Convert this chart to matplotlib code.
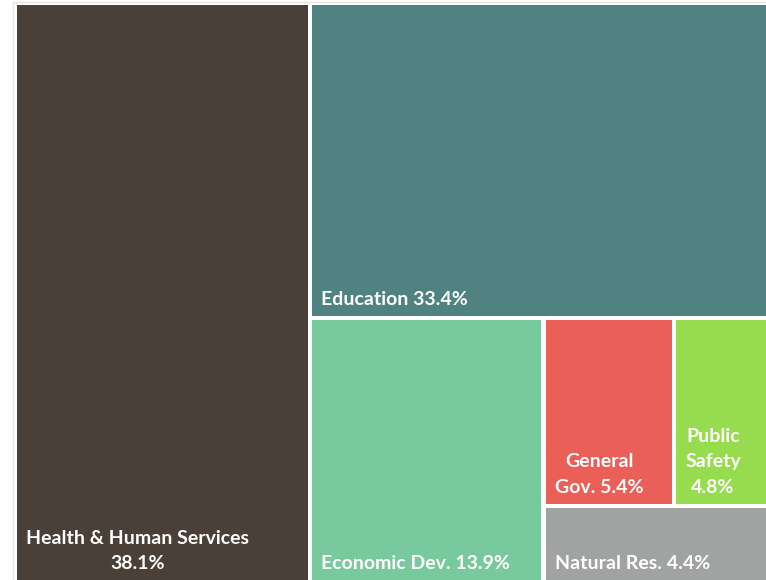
import matplotlib.pyplot as plt
from matplotlib.patches import Rectangle

labels = ['Health & Human Services\n38.1%', 'Education 33.4%', 'Economic Dev. 13.9%',
          'General\nGov. 5.4%', 'Public\nSafety\n4.8%', 'Natural Res. 4.4%']
values = [38.1, 33.4, 13.9, 5.4, 4.8, 4.4]
colors = ['#4a4037', '#508282', '#79c99e', '#ea5f57', '#97db4f', '#a0a3a1']


def split(x, y, w, h, vals, vertical):
    # slice a box into pieces proportional to vals
    tot = sum(vals)
    out = []
    pos = 0.0
    for v in vals:
        f = v / tot
        if vertical:
            out.append((x + pos * w, y, f * w, h))
        else:
            out.append((x, y + pos * h, w, f * h))
        pos += f
    return out


# region in pixels (y grows downward), extends past the crop
X0, Y0, W, H = 14.5, 3, 775, 584

health, rest = split(X0, Y0, W, H, [values[0], sum(values[1:])], True)
edu, bottom = split(*rest, [values[1], sum(values[2:])], False)
econ, small = split(*bottom, [values[2], sum(values[3:])], True)
top_small, nat = split(*small, [values[3] + values[4], values[5]], False)
gen, pub = split(*top_small, [values[3], values[4]], True)
rects = [health, edu, econ, gen, pub, nat]

fig = plt.figure(figsize=(7.66, 5.80), dpi=100)
ax = fig.add_axes([0, 0, 1, 1])
ax.set_xlim(0, 766)
ax.set_ylim(580, 0)
ax.axis('off')

ax.add_patch(Rectangle((13, 2), 800, 700, fill=False, edgecolor='#e4e4e4', lw=1))

g = 4.5
for (x, y, w, h), c, lab in zip(rects, colors, labels):
    ax.add_patch(Rectangle((x + g / 2, y + g / 2), w - g, h - g, facecolor=c, edgecolor='none'))
    ybot = min(y + h - g / 2, 580)
    ax.text(x + g / 2 + 9, ybot - 8, lab, color='white', fontsize=14, fontweight='bold',
            family='Lato', ha='left', va='bottom', multialignment='center', linespacing=1.6)

fig.savefig('out.png', dpi=100)
